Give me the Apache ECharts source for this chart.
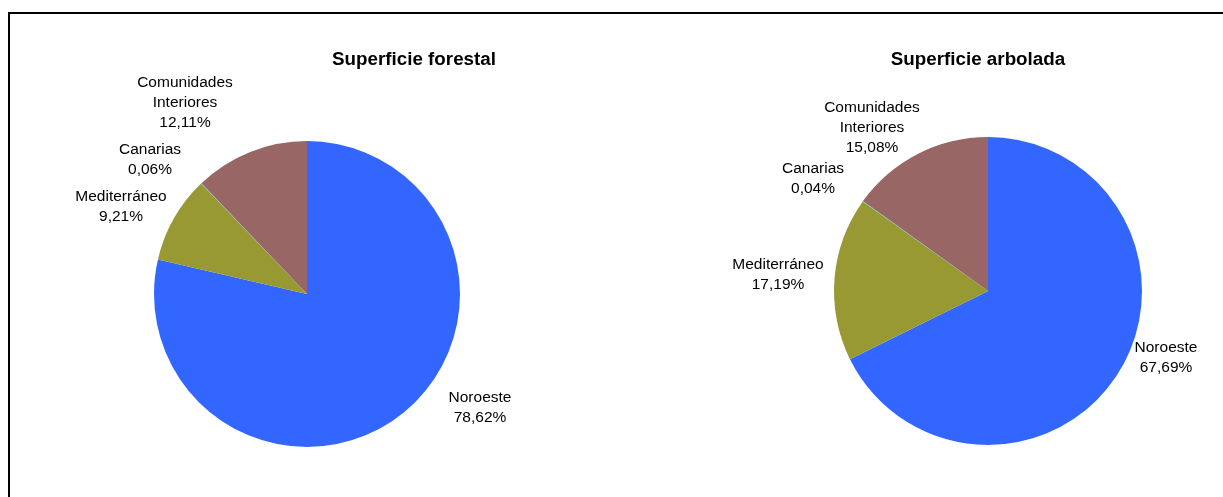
<!DOCTYPE html>
<html>
<head>
<meta charset="utf-8">
<script src="https://cdn.jsdelivr.net/npm/echarts@6/dist/echarts.min.js"></script>
<style>
  html, body { margin: 0; padding: 0; background: #fff; }
  #chart { width: 1223px; height: 497px; position: absolute; left: 0; top: 0; }
  #frame { position: absolute; left: 8px; top: 12px; width: 1215px; height: 485px;
           border-left: 2px solid #000; border-top: 2px solid #000; box-sizing: border-box; pointer-events: none; }
</style>
</head>
<body>
<div id="chart"></div>
<div id="frame"></div>
<script>
// ---- data ----
const categories = ['Noroeste', 'Mediterráneo', 'Canarias', 'Comunidades\nInteriores'];
const forestalValues = [78.62, 9.21, 0.06, 12.11];
const arboladaValues = [67.69, 17.19, 0.04, 15.08];
const chartTitles = ['Superficie forestal', 'Superficie arbolada'];

// ---- style ----
const sliceColors = ['#3366FF', '#999933', '#33CCCC', '#996666'];
const pieCenters = [[307, 294], [988, 291]];
const pieRadius = [153, 154];
const titlePos = [[414, 60], [978, 60]];
// label centre offsets from each pie centre (layout only)
const labelOffsets = [
  [[173, 114], [-186, -87], [-157, -134], [-122, -191]],
  [[178, 67], [-210, -16], [-175, -112], [-116, -163]]
];

const fmt = v => v.toFixed(2).replace('.', ',') + '%';

function buildSeries(values, idx) {
  return {
    type: 'pie',
    center: pieCenters[idx],
    radius: pieRadius[idx],
    startAngle: 90,
    clockwise: true,
    avoidLabelOverlap: false,
    minShowLabelAngle: 0,
    animation: false,
    silent: true,
    itemStyle: { borderWidth: 0 },
    label: {
      show: true,
      position: 'outside',
      formatter: p => p.name + '\n' + fmt(p.value),
      fontFamily: '"Liberation Sans", Arial, sans-serif',
      fontSize: 15.5,
      lineHeight: 20,
      color: '#000'
    },
    labelLine: { show: false },
    labelLayout: function (params) {
      const d = params.dataIndex;
      const c = pieCenters[idx], o = labelOffsets[idx][d];
      return { x: c[0] + o[0], y: c[1] + o[1], align: 'center', verticalAlign: 'middle' };
    },
    data: values.map((v, i) => ({ name: categories[i], value: v, itemStyle: { color: sliceColors[i] } }))
  };
}

const chart = echarts.init(document.getElementById('chart'), null, { renderer: 'canvas' });
chart.setOption({
  backgroundColor: '#fff',
  animation: false,
  graphic: chartTitles.map((t, i) => ({
    type: 'text',
    x: titlePos[i][0],
    y: titlePos[i][1],
    style: {
      text: t,
      fontFamily: '"Liberation Sans", Arial, sans-serif',
      fontWeight: 'bold',
      fontSize: 18.8,
      fill: '#000',
      textAlign: 'center',
      textVerticalAlign: 'middle'
    }
  })),
  series: [buildSeries(forestalValues, 0), buildSeries(arboladaValues, 1)]
});
</script>
</body>
</html>
